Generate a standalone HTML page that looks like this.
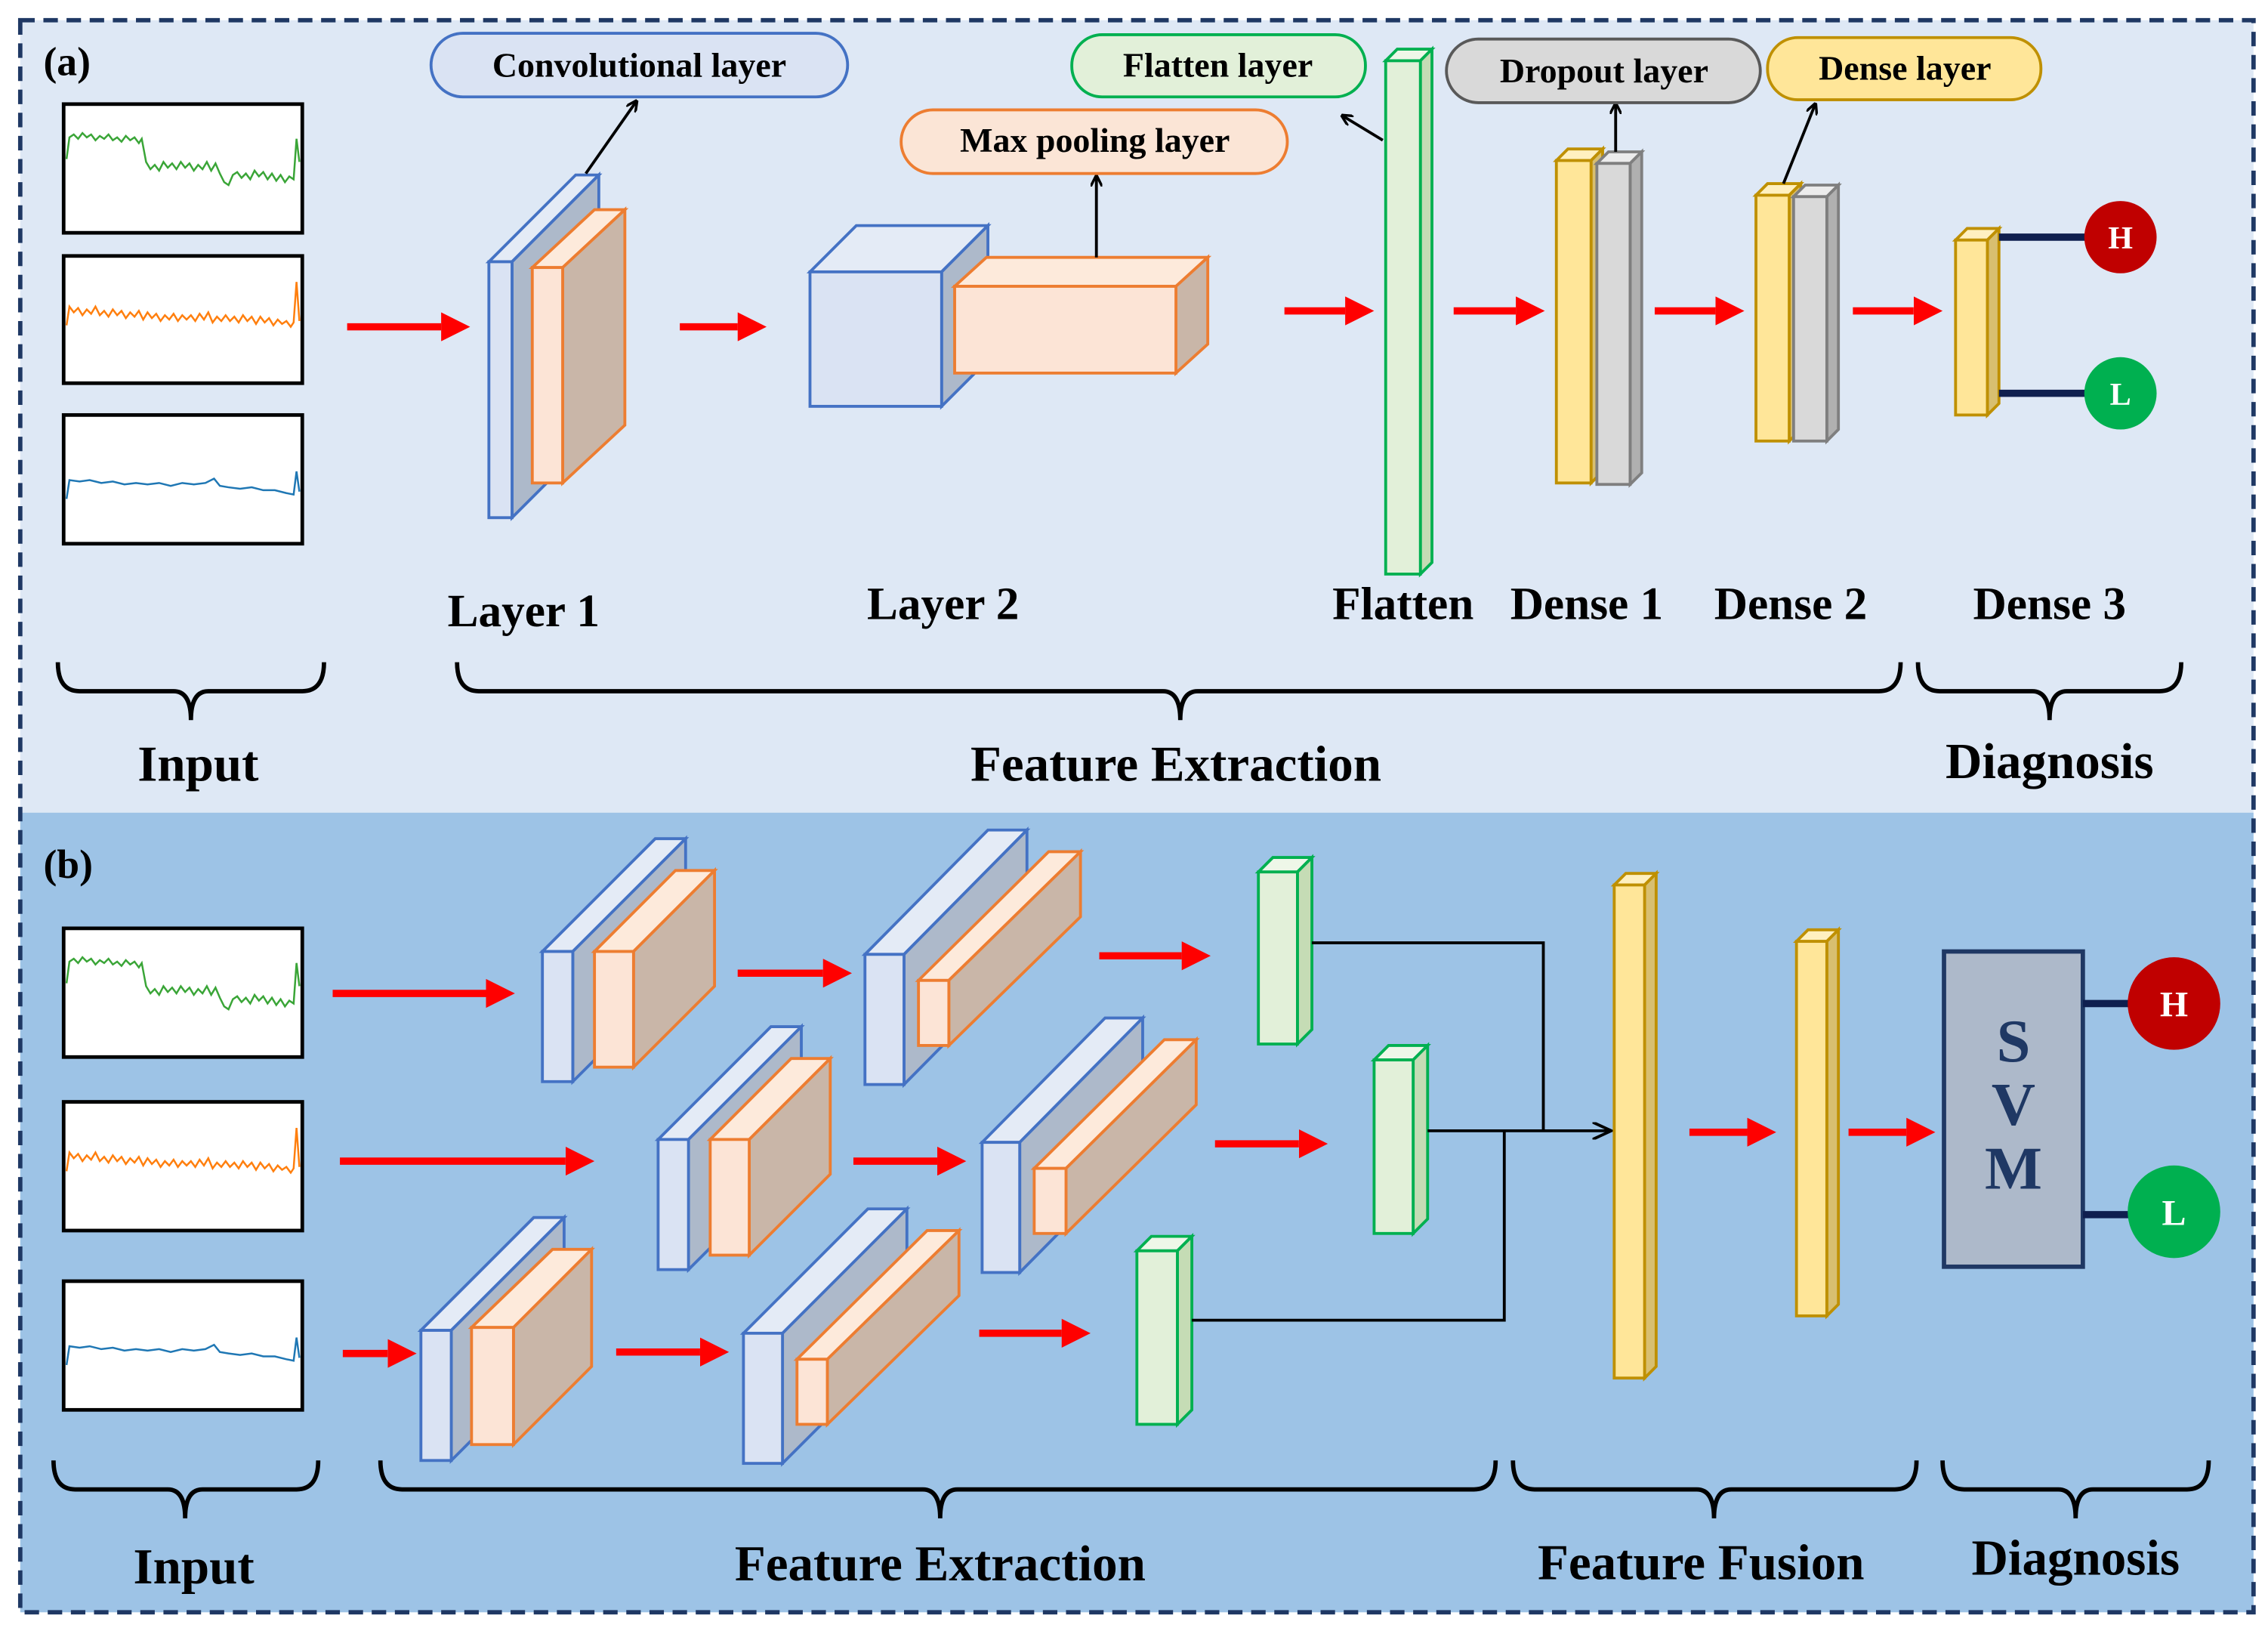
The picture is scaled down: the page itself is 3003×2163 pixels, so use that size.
<!DOCTYPE html>
<html><head><meta charset="utf-8"><style>
html,body{margin:0;padding:0;background:#fff}
svg{display:block}
text{font-family:"Liberation Serif",serif;font-weight:bold}
.bf{fill:#dae3f3;stroke:#4472c4;stroke-width:2}
.bt{fill:#e4ebf6;stroke:#4472c4;stroke-width:2}
.bs{fill:#adb9ca;stroke:#4472c4;stroke-width:2}
.of{fill:#fce4d6;stroke:#ed7d31;stroke-width:2}
.ot{fill:#fdeadb;stroke:#ed7d31;stroke-width:2}
.os{fill:#c9b6a8;stroke:#ed7d31;stroke-width:2}
.gf{fill:#e2f0d9;stroke:#00b050;stroke-width:2}
.gt{fill:#eef7e8;stroke:#00b050;stroke-width:2}
.gs{fill:#c5dcb5;stroke:#00b050;stroke-width:2}
.yf{fill:#ffe699;stroke:#bf9000;stroke-width:2}
.yt{fill:#fff0c0;stroke:#bf9000;stroke-width:2}
.ys{fill:#d8bf70;stroke:#bf9000;stroke-width:2}
.rf{fill:#d9d9d9;stroke:#7f7f7f;stroke-width:2}
.rt{fill:#ececec;stroke:#7f7f7f;stroke-width:2}
.rs{fill:#b0b0b0;stroke:#7f7f7f;stroke-width:2}
.br{fill:none;stroke:#000;stroke-width:3}
.lab{font-size:32px;text-anchor:middle}
.big{font-size:35px;text-anchor:middle}
.box{fill:#fff;stroke:#000;stroke-width:2.5}
</style></head><body>
<svg width="3003" height="2163" viewBox="0 0 1568 1130" preserveAspectRatio="none" xmlns="http://www.w3.org/2000/svg">
<defs>
<marker id="ra" markerWidth="4" markerHeight="4" refX="0" refY="2" orient="auto" markerUnits="strokeWidth"><path d="M0,0 L4,2 L0,4 Z" fill="#ff0000"/></marker>
<marker id="ka" markerWidth="8" markerHeight="8" refX="7" refY="4" orient="auto" markerUnits="userSpaceOnUse"><path d="M0,0 L8,4 L0,8" fill="none" stroke="#000" stroke-width="1.8"/></marker>
<marker id="kb" markerWidth="14" markerHeight="12" refX="12" refY="6" orient="auto" markerUnits="userSpaceOnUse"><path d="M0,0 L13,6 L0,12" fill="none" stroke="#000" stroke-width="2"/></marker>
<g id="w1"><polyline fill="none" stroke="#3aa537" stroke-width="1.3" points="46,110 48,95 51,93 54,96 57,92 60,95 63,93 66,97 69,94 72,96 75,93 78,97 81,95 84,98 87,94 90,97 93,95 96,99 98,96 101,112 104,117 107,114 110,118 113,112 116,116 119,113 122,117 125,112 128,116 131,113 134,118 137,114 140,117 143,112 146,118 149,113 152,120 155,126 158,128 161,121 164,119 167,123 170,120 173,124 176,118 179,122 182,119 185,124 188,120 191,125 194,121 197,126 200,122 203,124 205,96 207,112"/></g>
<g id="w2"><polyline fill="none" stroke="#ff7f0e" stroke-width="1.3" points="46,225 48,212 51,216 54,213 57,218 60,214 63,217 66,212 69,218 72,215 75,219 78,214 81,218 84,215 87,220 90,216 93,219 96,215 99,221 102,216 105,220 108,217 111,222 114,218 117,221 120,217 123,222 126,218 129,221 132,218 135,222 138,217 141,221 144,216 147,223 150,219 153,222 156,218 159,222 162,219 165,223 168,218 171,222 174,219 177,224 180,219 183,223 186,220 189,225 192,221 195,224 198,222 201,226 203,223 205,195 207,222"/></g>
<g id="w3"><polyline fill="none" stroke="#1f77b4" stroke-width="1.3" points="46,345 48,332 55,333 62,332 70,334 78,333 86,335 94,334 102,335 110,334 118,336 126,334 134,335 142,334 148,331 152,336 158,337 166,338 174,337 182,339 190,339 198,341 203,342 205,326 207,340"/></g>
</defs>
<rect x="0" y="0" width="1568" height="1130" fill="#fff"/>
<rect x="14" y="14" width="1544" height="548" fill="#dee8f5"/>
<rect x="14" y="562" width="1544" height="553" fill="#9dc3e6"/>
<rect x="14" y="14" width="1544" height="1101" fill="none" stroke="#1f3864" stroke-width="3" stroke-dasharray="10,6"/>

<!-- panel a -->
<text x="30" y="52" font-size="28">(a)</text>
<rect class="box" x="44" y="72" width="165" height="89"/><use href="#w1"/>
<rect class="box" x="44" y="177" width="165" height="88"/><use href="#w2"/>
<rect class="box" x="44" y="287" width="165" height="89"/><use href="#w3"/>
<line x1="240" y1="226" x2="305" y2="226" stroke="#f00" stroke-width="5" marker-end="url(#ra)"/>
<polygon class="bt" points="338,181 398,121 414,121 354,181"/><polygon class="bs" points="354,181 414,121 414,298 354,358"/><rect class="bf" x="338" y="181" width="16" height="177"/>
<polygon class="ot" points="368,185 411,145 432,145 389,185"/><polygon class="os" points="389,185 432,145 432,294 389,334"/><rect class="of" x="368" y="185" width="21" height="149"/>
<line x1="405" y1="120" x2="440" y2="70" stroke="#000" stroke-width="2" marker-end="url(#ka)"/>
<rect x="298" y="23" width="288" height="44" rx="22" fill="#dae3f3" stroke="#4472c4" stroke-width="2"/>
<text x="442" y="53" font-size="24" text-anchor="middle">Convolutional layer</text>
<line x1="470" y1="226" x2="510" y2="226" stroke="#f00" stroke-width="5" marker-end="url(#ra)"/>
<polygon class="bt" points="560,188 592,156 683,156 651,188"/><polygon class="bs" points="651,188 683,156 683,249 651,281"/><rect class="bf" x="560" y="188" width="91" height="93"/>
<polygon class="ot" points="660,198 682,178 835,178 813,198"/><polygon class="os" points="813,198 835,178 835,238 813,258"/><rect class="of" x="660" y="198" width="153" height="60"/>
<line x1="758" y1="178" x2="758" y2="122" stroke="#000" stroke-width="2" marker-end="url(#ka)"/>
<rect x="623" y="76" width="267" height="44" rx="22" fill="#fbe5d6" stroke="#ed7d31" stroke-width="2"/>
<text x="757" y="105" font-size="24" text-anchor="middle">Max pooling layer</text>
<line x1="888" y1="215" x2="930" y2="215" stroke="#f00" stroke-width="5" marker-end="url(#ra)"/>
<polygon class="gt" points="958,42 966,34 990,34 982,42"/><polygon class="gs" points="982,42 990,34 990,389 982,397"/><rect class="gf" x="958" y="42" width="24" height="355"/>
<line x1="956" y1="97" x2="928" y2="80" stroke="#000" stroke-width="2" marker-end="url(#ka)"/>
<rect x="741" y="24" width="203" height="43" rx="21" fill="#e2f0d9" stroke="#00b050" stroke-width="2"/>
<text x="842" y="53" font-size="24" text-anchor="middle">Flatten layer</text>
<line x1="1005" y1="215" x2="1048" y2="215" stroke="#f00" stroke-width="5" marker-end="url(#ra)"/>
<polygon class="yt" points="1076,111 1084,103 1108,103 1100,111"/><polygon class="ys" points="1100,111 1108,103 1108,326 1100,334"/><rect class="yf" x="1076" y="111" width="24" height="223"/>
<polygon class="rt" points="1104,113 1112,105 1135,105 1127,113"/><polygon class="rs" points="1127,113 1135,105 1135,327 1127,335"/><rect class="rf" x="1104" y="113" width="23" height="222"/>
<line x1="1117" y1="105" x2="1117" y2="72" stroke="#000" stroke-width="2" marker-end="url(#ka)"/>
<rect x="1000" y="27" width="217" height="44" rx="22" fill="#d9d9d9" stroke="#595959" stroke-width="2"/>
<text x="1109" y="57" font-size="24" text-anchor="middle">Dropout layer</text>
<line x1="1144" y1="215" x2="1186" y2="215" stroke="#f00" stroke-width="5" marker-end="url(#ra)"/>
<polygon class="yt" points="1214,135 1222,127 1245,127 1237,135"/><polygon class="ys" points="1237,135 1245,127 1245,297 1237,305"/><rect class="yf" x="1214" y="135" width="23" height="170"/>
<polygon class="rt" points="1240,136 1248,128 1271,128 1263,136"/><polygon class="rs" points="1263,136 1271,128 1271,297 1263,305"/><rect class="rf" x="1240" y="136" width="23" height="169"/>
<line x1="1233" y1="127" x2="1255" y2="72" stroke="#000" stroke-width="2" marker-end="url(#ka)"/>
<rect x="1222" y="26" width="189" height="43" rx="21" fill="#ffe699" stroke="#bf9000" stroke-width="2"/>
<text x="1317" y="55" font-size="24" text-anchor="middle">Dense layer</text>
<line x1="1281" y1="215" x2="1323" y2="215" stroke="#f00" stroke-width="5" marker-end="url(#ra)"/>
<polygon class="yt" points="1352,166 1360,158 1382,158 1374,166"/><polygon class="ys" points="1374,166 1382,158 1382,279 1374,287"/><rect class="yf" x="1352" y="166" width="22" height="121"/>
<line x1="1382" y1="164" x2="1442" y2="164" stroke="#0f1f4f" stroke-width="5"/>
<line x1="1382" y1="272" x2="1442" y2="272" stroke="#0f1f4f" stroke-width="5"/>
<circle cx="1466" cy="164" r="25" fill="#c00000"/><text x="1466" y="172" font-size="22" fill="#fff" text-anchor="middle">H</text>
<circle cx="1466" cy="272" r="25" fill="#00b050"/><text x="1466" y="280" font-size="22" fill="#fff" text-anchor="middle">L</text>
<text class="lab" x="362" y="433">Layer 1</text>
<text class="lab" x="652" y="428">Layer 2</text>
<text class="lab" x="970" y="428">Flatten</text>
<text class="lab" x="1097" y="428">Dense 1</text>
<text class="lab" x="1238" y="428">Dense 2</text>
<text class="lab" x="1417" y="428">Dense 3</text>
<path class="br" d="M40,458 Q40,478 55,478 L120,478 Q132,478 132,498 Q132,478 144,478 L209,478 Q224,478 224,458"/>
<path class="br" d="M316,458 Q316,478 331,478 L804,478 Q816,478 816,498 Q816,478 828,478 L1299,478 Q1314,478 1314,458"/>
<path class="br" d="M1326,458 Q1326,478 1341,478 L1405,478 Q1417,478 1417,498 Q1417,478 1429,478 L1493,478 Q1508,478 1508,458"/>
<text class="big" x="137" y="540">Input</text>
<text class="big" x="813" y="540">Feature Extraction</text>
<text class="big" x="1417" y="538">Diagnosis</text>

<!-- panel b -->
<text x="30" y="607" font-size="28">(b)</text>
<rect class="box" x="44" y="642" width="165" height="89"/><use href="#w1" transform="translate(0,570)"/>
<rect class="box" x="44" y="762" width="165" height="89"/><use href="#w2" transform="translate(0,585)"/>
<rect class="box" x="44" y="886" width="165" height="89"/><use href="#w3" transform="translate(0,599)"/>
<line x1="230" y1="687" x2="336" y2="687" stroke="#f00" stroke-width="5" marker-end="url(#ra)"/>
<line x1="235" y1="803" x2="391" y2="803" stroke="#f00" stroke-width="5" marker-end="url(#ra)"/>
<line x1="237" y1="936" x2="268" y2="936" stroke="#f00" stroke-width="5" marker-end="url(#ra)"/>
<polygon class="bt" points="375,658 453,580 474,580 396,658"/><polygon class="bs" points="396,658 474,580 474,670 396,748"/><rect class="bf" x="375" y="658" width="21" height="90"/>
<polygon class="ot" points="411,658 467,602 494,602 438,658"/><polygon class="os" points="438,658 494,602 494,682 438,738"/><rect class="of" x="411" y="658" width="27" height="80"/>
<line x1="510" y1="673" x2="569" y2="673" stroke="#f00" stroke-width="5" marker-end="url(#ra)"/>
<polygon class="bt" points="598,660 683,574 710,574 625,660"/><polygon class="bs" points="625,660 710,574 710,664 625,750"/><rect class="bf" x="598" y="660" width="27" height="90"/>
<polygon class="ot" points="635,678 725,589 747,589 656,678"/><polygon class="os" points="656,678 747,589 747,634 656,723"/><rect class="of" x="635" y="678" width="21" height="45"/>
<line x1="760" y1="661" x2="817" y2="661" stroke="#f00" stroke-width="5" marker-end="url(#ra)"/>
<polygon class="gt" points="870,603 880,593 907,593 897,603"/><polygon class="gs" points="897,603 907,593 907,712 897,722"/><rect class="gf" x="870" y="603" width="27" height="119"/>
<polygon class="bt" points="455,788 533,710 554,710 476,788"/><polygon class="bs" points="476,788 554,710 554,800 476,878"/><rect class="bf" x="455" y="788" width="21" height="90"/>
<polygon class="ot" points="491,788 547,732 574,732 518,788"/><polygon class="os" points="518,788 574,732 574,812 518,868"/><rect class="of" x="491" y="788" width="27" height="80"/>
<line x1="590" y1="803" x2="648" y2="803" stroke="#f00" stroke-width="5" marker-end="url(#ra)"/>
<polygon class="bt" points="679,790 764,704 790,704 705,790"/><polygon class="bs" points="705,790 790,704 790,794 705,880"/><rect class="bf" x="679" y="790" width="26" height="90"/>
<polygon class="ot" points="715,808 805,719 827,719 737,808"/><polygon class="os" points="737,808 827,719 827,764 737,853"/><rect class="of" x="715" y="808" width="22" height="45"/>
<line x1="840" y1="791" x2="898" y2="791" stroke="#f00" stroke-width="5" marker-end="url(#ra)"/>
<polygon class="gt" points="950,733 960,723 987,723 977,733"/><polygon class="gs" points="977,733 987,723 987,843 977,853"/><rect class="gf" x="950" y="733" width="27" height="120"/>
<polygon class="bt" points="291,920 369,842 390,842 312,920"/><polygon class="bs" points="312,920 390,842 390,932 312,1010"/><rect class="bf" x="291" y="920" width="21" height="90"/>
<polygon class="ot" points="326,918 382,864 409,864 355,918"/><polygon class="os" points="355,918 409,864 409,945 355,999"/><rect class="of" x="326" y="918" width="29" height="81"/>
<line x1="426" y1="935" x2="484" y2="935" stroke="#f00" stroke-width="5" marker-end="url(#ra)"/>
<polygon class="bt" points="514,922 600,836 627,836 541,922"/><polygon class="bs" points="541,922 627,836 627,926 541,1012"/><rect class="bf" x="514" y="922" width="27" height="90"/>
<polygon class="ot" points="551,940 641,851 663,851 572,940"/><polygon class="os" points="572,940 663,851 663,896 572,985"/><rect class="of" x="551" y="940" width="21" height="45"/>
<line x1="677" y1="922" x2="734" y2="922" stroke="#f00" stroke-width="5" marker-end="url(#ra)"/>
<polygon class="gt" points="786,865 796,855 824,855 814,865"/><polygon class="gs" points="814,865 824,855 824,975 814,985"/><rect class="gf" x="786" y="865" width="28" height="120"/>
<polyline points="907,652 1067,652 1067,782" fill="none" stroke="#000" stroke-width="2"/>
<line x1="987" y1="782" x2="1113" y2="782" stroke="#000" stroke-width="2" marker-end="url(#kb)"/>
<polyline points="824,913 1040,913 1040,782" fill="none" stroke="#000" stroke-width="2"/>
<polygon class="yt" points="1116,612 1124,604 1145,604 1137,612"/><polygon class="ys" points="1137,612 1145,604 1145,945 1137,953"/><rect class="yf" x="1116" y="612" width="21" height="341"/>
<line x1="1168" y1="783" x2="1208" y2="783" stroke="#f00" stroke-width="5" marker-end="url(#ra)"/>
<polygon class="yt" points="1242,651 1250,643 1271,643 1263,651"/><polygon class="ys" points="1263,651 1271,643 1271,902 1263,910"/><rect class="yf" x="1242" y="651" width="21" height="259"/>
<line x1="1278" y1="783" x2="1318" y2="783" stroke="#f00" stroke-width="5" marker-end="url(#ra)"/>
<rect x="1344" y="658" width="96" height="218" fill="#adb9ca" stroke="#1f3864" stroke-width="3"/>
<text x="1392" y="734" font-size="42" fill="#1f3864" text-anchor="middle">S</text>
<text x="1392" y="778" font-size="42" fill="#1f3864" text-anchor="middle">V</text>
<text x="1392" y="822" font-size="42" fill="#1f3864" text-anchor="middle">M</text>
<line x1="1440" y1="694" x2="1472" y2="694" stroke="#0f1f4f" stroke-width="5"/>
<line x1="1440" y1="840" x2="1472" y2="840" stroke="#0f1f4f" stroke-width="5"/>
<circle cx="1503" cy="694" r="32" fill="#c00000"/><text x="1503" y="703" font-size="25" fill="#fff" text-anchor="middle">H</text>
<circle cx="1503" cy="838" r="32" fill="#00b050"/><text x="1503" y="847" font-size="25" fill="#fff" text-anchor="middle">L</text>
<path class="br" d="M37,1010 Q37,1030 52,1030 L116,1030 Q128,1030 128,1050 Q128,1030 140,1030 L205,1030 Q220,1030 220,1010"/>
<path class="br" d="M263,1010 Q263,1030 278,1030 L638,1030 Q650,1030 650,1050 Q650,1030 662,1030 L1019,1030 Q1034,1030 1034,1010"/>
<path class="br" d="M1046,1010 Q1046,1030 1061,1030 L1173,1030 Q1185,1030 1185,1050 Q1185,1030 1197,1030 L1310,1030 Q1325,1030 1325,1010"/>
<path class="br" d="M1343,1010 Q1343,1030 1358,1030 L1423,1030 Q1435,1030 1435,1050 Q1435,1030 1447,1030 L1512,1030 Q1527,1030 1527,1010"/>
<text class="big" x="134" y="1095">Input</text>
<text class="big" x="650" y="1093">Feature Extraction</text>
<text class="big" x="1176" y="1092">Feature Fusion</text>
<text class="big" x="1435" y="1089">Diagnosis</text>
</svg>
</body></html>
